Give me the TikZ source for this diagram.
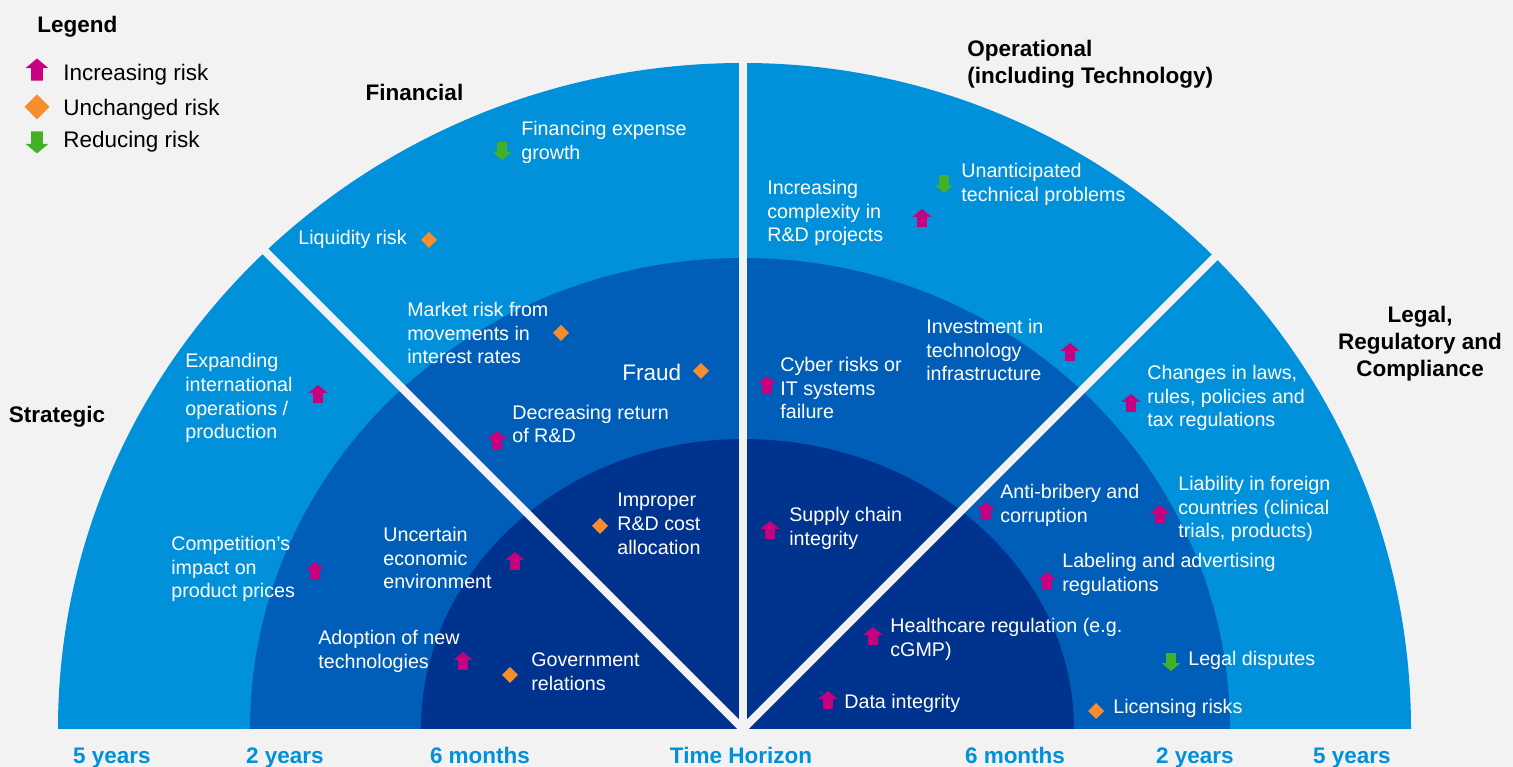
\documentclass[tikz,border=0pt]{standalone}
\usepackage{fontspec}
\setmainfont{Liberation Sans}
\usepackage{xcolor}
\usepackage{tikz}
\usetikzlibrary{shapes.geometric, shapes.arrows}

\definecolor{bggray}{HTML}{F2F2F2}
\definecolor{ringlight}{HTML}{0091DA}
\definecolor{ringmid}{HTML}{005EB8}
\definecolor{ringdark}{HTML}{00338D}
\definecolor{riskup}{HTML}{C6007E}
\definecolor{riskflat}{HTML}{F68D2E}
\definecolor{riskdown}{HTML}{43B02A}

\tikzset{
  item/.style={text=white, align=left, anchor=west, inner sep=0pt, font=\fontsize{11.2}{13.6}\selectfont},
  legtext/.style={text=black, anchor=west, inner sep=0pt, font=\fontsize{12.8}{15}\selectfont},
  heading/.style={text=black, inner sep=0pt, font=\bfseries\fontsize{12.8}{15.3}\selectfont},
  horizon/.style={text=ringlight, anchor=base, inner sep=0pt, font=\bfseries\fontsize{12.8}{15}\selectfont},
  gap/.style={draw=bggray, line width=0.16cm},
  upmark/.style={single arrow, rotate=90, fill=riskup, inner xsep=0pt, inner ysep=0.09cm, outer sep=0pt,
    minimum height=0.36cm, single arrow head extend=0.09cm, single arrow tip angle=100},
  downmark/.style={single arrow, rotate=-90, fill=riskdown, inner xsep=0pt, inner ysep=0.09cm, outer sep=0pt,
    minimum height=0.36cm, single arrow head extend=0.09cm, single arrow tip angle=100},
  flatmark/.style={diamond, fill=riskflat, inner sep=0pt, outer sep=0pt, minimum size=0.32cm},
}

\begin{document}
\begin{tikzpicture}
\useasboundingbox (-14.86,-0.76) rectangle (15.40,14.58);
\fill[bggray] (-14.86,-0.76) rectangle (15.40,14.58);
\coordinate (hub) at (0,0);

% Rings (left and right halves)
\fill[ringlight] (hub) -- (-13.70,0) arc[start angle=180, end angle=90, x radius=13.70, y radius=13.32] -- cycle;
\fill[ringlight] (hub) -- (13.36,0) arc[start angle=0, end angle=90, x radius=13.36, y radius=13.32] -- cycle;
\fill[ringmid] (hub) -- (-9.86,0) arc[start angle=180, end angle=90, x radius=9.86, y radius=9.42] -- cycle;
\fill[ringmid] (hub) -- (9.74,0) arc[start angle=0, end angle=90, x radius=9.74, y radius=9.42] -- cycle;
\fill[ringdark] (hub) -- (-6.44,0) arc[start angle=180, end angle=90, x radius=6.44, y radius=5.80] -- cycle;
\fill[ringdark] (hub) -- (6.62,0) arc[start angle=0, end angle=90, x radius=6.62, y radius=5.80] -- cycle;

% Sector gaps
\draw[gap] (hub) -- (0,13.6);
\draw[gap] (hub) -- (135:13.8);
\draw[gap] (hub) -- (45:13.6);

% Legend
\node[heading, anchor=west] (legend) at (-14.12,14.04) {Legend};
\node[upmark, minimum height=0.44cm, inner ysep=0.11cm, single arrow head extend=0.11cm] (leg-up) at (-14.12,13.14) {};
\node[legtext] (leg-up-text) at (-13.60,13.08) {Increasing risk};
\node[flatmark, minimum size=0.5cm] (leg-flat) at (-14.12,12.44) {};
\node[legtext] (leg-flat-text) at (-13.60,12.38) {Unchanged risk};
\node[downmark, minimum height=0.44cm, inner ysep=0.11cm, single arrow head extend=0.11cm] (leg-down) at (-14.12,11.78) {};
\node[legtext] (leg-down-text) at (-13.60,11.74) {Reducing risk};

% Category headings
\node[heading] (strategic) at (-13.72,6.24) {Strategic};
\node[heading] (financial) at (-6.57,12.73) {Financial};
\node[heading, anchor=west, align=left] (operational) at (4.48,13.29) {Operational\\(including Technology)};
\node[heading, align=center] (legal) at (13.54,7.70) {Legal,\\Regulatory and\\Compliance};

% Strategic risks
\node[item] (expanding) at (-11.16,6.62) {Expanding\\international\\operations /\\production};
\node[upmark] (expanding-mark) at (-8.50,6.66) {};
\node[item] (competition) at (-11.44,3.20) {Competition’s\\impact on\\product prices};
\node[upmark] (competition-mark) at (-8.56,3.12) {};
\node[item] (economic) at (-7.20,3.42) {Uncertain\\economic\\environment};
\node[upmark] (economic-mark) at (-4.56,3.32) {};
\node[item] (adoption) at (-8.50,1.56) {Adoption of new\\technologies};
\node[upmark] (adoption-mark) at (-5.60,1.32) {};
\node[item] (government) at (-4.24,1.14) {Government\\relations};
\node[flatmark] (government-mark) at (-4.66,1.08) {};

% Financial risks
\node[item] (financing) at (-4.44,11.74) {Financing expense\\growth};
\node[downmark] (financing-mark) at (-4.82,11.60) {};
\node[item] (liquidity) at (-8.90,9.80) {Liquidity risk};
\node[flatmark] (liquidity-mark) at (-6.28,9.78) {};
\node[item] (market) at (-6.72,7.92) {Market risk from\\movements in\\interest rates};
\node[flatmark] (market-mark) at (-3.64,7.92) {};
\node[item, font=\fontsize{12.8}{15}\selectfont] (fraud) at (-2.42,7.14) {Fraud};
\node[flatmark] (fraud-mark) at (-0.84,7.16) {};
\node[item] (return) at (-4.62,6.10) {Decreasing return\\of R\&D};
\node[upmark] (return-mark) at (-4.92,5.74) {};
\node[item] (improper) at (-2.52,4.10) {Improper\\R\&D cost\\allocation};
\node[flatmark] (improper-mark) at (-2.86,4.06) {};

% Operational risks
\node[item] (complexity) at (0.48,10.32) {Increasing\\complexity in\\R\&D projects};
\node[upmark] (complexity-mark) at (3.58,10.18) {};
\node[item] (technical) at (4.36,10.89) {Unanticipated\\technical problems};
\node[downmark] (technical-mark) at (4.02,10.94) {};
\node[item] (investment) at (3.66,7.58) {Investment in\\technology\\infrastructure};
\node[upmark] (investment-mark) at (6.54,7.50) {};
\node[item] (cyber) at (0.74,6.82) {Cyber risks or\\IT systems\\failure};
\node[upmark] (cyber-mark) at (0.48,6.84) {};
\node[item] (supply) at (0.92,4.02) {Supply chain\\integrity};
\node[upmark] (supply-mark) at (0.54,3.94) {};

% Legal, regulatory and compliance risks
\node[item] (laws) at (8.08,6.62) {Changes in laws,\\rules, policies and\\tax regulations};
\node[upmark] (laws-mark) at (7.76,6.48) {};
\node[item] (liability) at (8.70,4.40) {Liability in foreign\\countries (clinical\\trials, products)};
\node[upmark] (liability-mark) at (8.34,4.26) {};
\node[item] (bribery) at (5.14,4.48) {Anti-bribery and\\corruption};
\node[upmark] (bribery-mark) at (4.86,4.32) {};
\node[item] (labeling) at (6.38,3.10) {Labeling and advertising\\regulations};
\node[upmark] (labeling-mark) at (6.08,2.92) {};
\node[item] (healthcare) at (2.94,1.80) {Healthcare regulation (e.g.\\cGMP)};
\node[upmark] (healthcare-mark) at (2.60,1.82) {};
\node[item] (data) at (2.02,0.52) {Data integrity};
\node[upmark] (data-mark) at (1.70,0.54) {};
\node[item] (disputes) at (8.90,1.38) {Legal disputes};
\node[downmark] (disputes-mark) at (8.56,1.38) {};
\node[item] (licensing) at (7.40,0.41) {Licensing risks};
\node[flatmark] (licensing-mark) at (7.06,0.36) {};

% Time horizon
\node[horizon] (left-5y) at (-12.62,-0.70) {5 years};
\node[horizon] (left-2y) at (-9.16,-0.70) {2 years};
\node[horizon] (left-6m) at (-5.26,-0.70) {6 months};
\node[horizon] (time) at (-0.04,-0.70) {Time Horizon};
\node[horizon] (right-6m) at (5.44,-0.70) {6 months};
\node[horizon] (right-2y) at (9.04,-0.70) {2 years};
\node[horizon] (right-5y) at (12.18,-0.70) {5 years};
\end{tikzpicture}
\end{document}
